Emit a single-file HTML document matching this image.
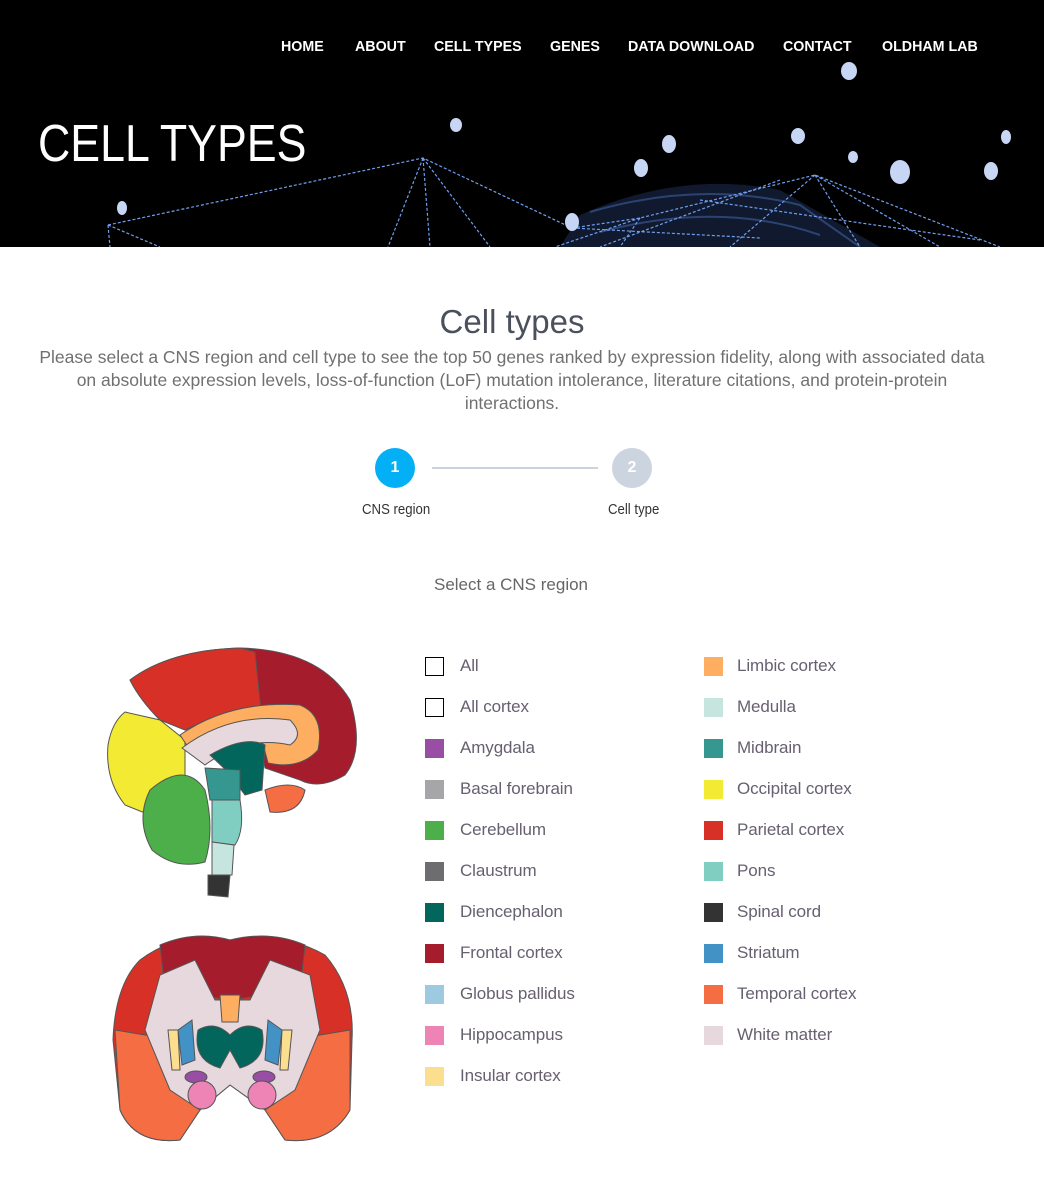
<!DOCTYPE html>
<html><head><meta charset="utf-8"><style>
*{margin:0;padding:0;box-sizing:border-box}
body{width:1044px;height:1185px;background:#fff;font-family:"Liberation Sans",sans-serif;position:relative;overflow:hidden}
.hdr{position:absolute;left:0;top:0;width:1044px;height:247px;background:#000;overflow:hidden}
.nav{position:absolute;top:38px;color:#fff;font-size:15px;font-weight:bold;transform-origin:0 0;transform:scaleX(0.95);white-space:nowrap}
.big{position:absolute;left:38px;top:114px;color:#fff;font-size:52px;transform-origin:0 0;transform:scaleX(0.86);white-space:nowrap}
.h2{position:absolute;left:0;width:1024px;text-align:center;top:303px;font-size:33px;color:#4a505c;font-weight:300}
.p{position:absolute;left:0;width:1024px;text-align:center;top:346px;font-size:17.5px;line-height:23px;color:#707070;white-space:nowrap}
.c{position:absolute;width:40px;height:40px;border-radius:50%;color:#fff;font-weight:bold;font-size:16px;text-align:center;line-height:40px}
.sl{position:absolute;font-size:15px;color:#333;transform-origin:0 0;transform:scaleX(0.88);white-space:nowrap}
.sel{position:absolute;left:0;width:1022px;text-align:center;top:575px;font-size:17px;color:#666}
.lg{position:absolute;font-size:17px;color:#676070;white-space:nowrap;letter-spacing:-0.1px}
.bx{position:absolute;width:19px;height:19px}
</style></head><body>
<div class="hdr">
<svg width="1044" height="247" style="position:absolute;left:0;top:0">
<g fill="#1a2a4c" opacity="0.6"><path d="M580 215 Q680 170 780 190 L880 247 L560 247 Z"/></g>
<g stroke="#3f5fa0" stroke-width="2" fill="none" opacity="0.6"><path d="M590 212 Q700 180 800 205 L860 247 M600 232 Q720 200 820 235"/></g>
<g stroke="#6f9ff0" stroke-width="1.2" stroke-dasharray="3,2" fill="none">
<path d="M108 225 L423 158 L572 228 M423 158 L388 247 M423 158 L430 247 M423 158 L490 247 M108 225 L110 247 M108 225 L160 247"/>
<path d="M572 228 L640 218 L815 175 L1000 247 M640 218 L555 247 M815 175 L940 247 M815 175 L860 247 M815 175 L730 247 M640 218 L620 247 M780 180 L600 247 M700 200 L980 240 M572 228 L760 238"/>
</g>
<g fill="#c8d6f5">
<ellipse cx="849" cy="71" rx="8" ry="9"/><ellipse cx="456" cy="125" rx="6" ry="7"/><ellipse cx="669" cy="144" rx="7" ry="9"/>
<ellipse cx="798" cy="136" rx="7" ry="8"/><ellipse cx="1006" cy="137" rx="5" ry="7"/><ellipse cx="853" cy="157" rx="5" ry="6"/>
<ellipse cx="641" cy="168" rx="7" ry="9"/><ellipse cx="900" cy="172" rx="10" ry="12"/><ellipse cx="991" cy="171" rx="7" ry="9"/>
<ellipse cx="122" cy="208" rx="5" ry="7"/><ellipse cx="572" cy="222" rx="7" ry="9"/>
</g></svg>
<div class="nav" style="left:281px">HOME</div>
<div class="nav" style="left:355px">ABOUT</div>
<div class="nav" style="left:434px">CELL TYPES</div>
<div class="nav" style="left:550px">GENES</div>
<div class="nav" style="left:628px">DATA DOWNLOAD</div>
<div class="nav" style="left:783px">CONTACT</div>
<div class="nav" style="left:882px">OLDHAM LAB</div>
<div class="big">CELL TYPES</div>
</div>
<div class="h2">Cell types</div>
<div class="p">Please select a CNS region and cell type to see the top 50 genes ranked by expression fidelity, along with associated data<br>on absolute expression levels, loss-of-function (LoF) mutation intolerance, literature citations, and protein-protein<br>interactions.</div>
<div class="c" style="left:375px;top:448px;background:#03b0f5">1</div>
<div style="position:absolute;left:432px;top:467px;width:166px;height:2px;background:#ccd3dc"></div>
<div class="c" style="left:612px;top:448px;background:#ccd4df">2</div>
<div class="sl" style="left:362px;top:501px">CNS region</div>
<div class="sl" style="left:608px;top:501px">Cell type</div>
<div class="sel">Select a CNS region</div>

<div class="bx" style="left:425px;top:657px;border:1.5px solid #000"></div><div class="lg" style="left:460px;top:656px">All</div>
<div class="bx" style="left:425px;top:698px;border:1.5px solid #000"></div><div class="lg" style="left:460px;top:697px">All cortex</div>
<div class="bx" style="left:425px;top:739px;background:#984ea3"></div><div class="lg" style="left:460px;top:738px">Amygdala</div>
<div class="bx" style="left:425px;top:780px;background:#a6a6a8"></div><div class="lg" style="left:460px;top:779px">Basal forebrain</div>
<div class="bx" style="left:425px;top:821px;background:#4daf4a"></div><div class="lg" style="left:460px;top:820px">Cerebellum</div>
<div class="bx" style="left:425px;top:862px;background:#6d6d6f"></div><div class="lg" style="left:460px;top:861px">Claustrum</div>
<div class="bx" style="left:425px;top:903px;background:#02665c"></div><div class="lg" style="left:460px;top:902px">Diencephalon</div>
<div class="bx" style="left:425px;top:944px;background:#a51c2d"></div><div class="lg" style="left:460px;top:943px">Frontal cortex</div>
<div class="bx" style="left:425px;top:985px;background:#9ecae1"></div><div class="lg" style="left:460px;top:984px">Globus pallidus</div>
<div class="bx" style="left:425px;top:1026px;background:#ee83b5"></div><div class="lg" style="left:460px;top:1025px">Hippocampus</div>
<div class="bx" style="left:425px;top:1067px;background:#fbdf8f"></div><div class="lg" style="left:460px;top:1066px">Insular cortex</div>

<div class="bx" style="left:704px;top:657px;background:#fdae61"></div><div class="lg" style="left:737px;top:656px">Limbic cortex</div>
<div class="bx" style="left:704px;top:698px;background:#c7e5df"></div><div class="lg" style="left:737px;top:697px">Medulla</div>
<div class="bx" style="left:704px;top:739px;background:#35978f"></div><div class="lg" style="left:737px;top:738px">Midbrain</div>
<div class="bx" style="left:704px;top:780px;background:#f2ea33"></div><div class="lg" style="left:737px;top:779px">Occipital cortex</div>
<div class="bx" style="left:704px;top:821px;background:#d73027"></div><div class="lg" style="left:737px;top:820px">Parietal cortex</div>
<div class="bx" style="left:704px;top:862px;background:#80cdc1"></div><div class="lg" style="left:737px;top:861px">Pons</div>
<div class="bx" style="left:704px;top:903px;background:#333"></div><div class="lg" style="left:737px;top:902px">Spinal cord</div>
<div class="bx" style="left:704px;top:944px;background:#4292c6"></div><div class="lg" style="left:737px;top:943px">Striatum</div>
<div class="bx" style="left:704px;top:985px;background:#f46d43"></div><div class="lg" style="left:737px;top:984px">Temporal cortex</div>
<div class="bx" style="left:704px;top:1026px;background:#e7d8de"></div><div class="lg" style="left:737px;top:1025px">White matter</div>

<svg width="1044" height="1185" style="position:absolute;left:0;top:0;pointer-events:none">
<g stroke="#555" stroke-width="1">
<path d="M130 680 Q170 650 240 648 Q320 650 350 700 Q365 750 345 775 Q320 790 300 780 L265 768 L258 730 Q230 715 185 730 L160 720 Q140 700 130 680 Z" fill="#a51c2d"/>
<path d="M130 680 Q170 650 240 648 L255 652 L262 720 Q220 712 185 730 L160 720 Q140 700 130 680 Z" fill="#d73027"/>
<path d="M125 712 L160 720 L185 740 L185 775 L150 815 L125 805 Q105 780 108 745 Q112 722 125 712 Z" fill="#f2ea33"/>
<path d="M180 735 Q230 700 300 705 Q325 715 318 750 Q300 770 268 763 L262 740 Q230 720 190 750 Z" fill="#fdae61"/>
<path d="M182 748 Q230 712 290 720 Q305 735 290 745 Q245 735 205 765 Z" fill="#e7d8de"/>
<path d="M210 755 Q245 735 265 745 L262 790 L245 795 L228 772 Z" fill="#02665c"/>
<path d="M265 790 Q290 780 305 790 Q300 815 270 812 Z" fill="#f46d43"/>
<path d="M205 768 L240 770 L240 800 L210 800 Z" fill="#35978f"/>
<path d="M212 800 L240 800 Q245 830 235 845 L212 842 Z" fill="#80cdc1"/>
<path d="M212 842 L234 845 L232 875 L212 875 Z" fill="#c7e5df"/>
<path d="M208 875 L230 875 L228 897 L208 895 Z" fill="#333"/>
<path d="M150 790 Q185 760 205 790 Q215 830 205 862 Q175 870 152 850 Q135 820 150 790 Z" fill="#4daf4a"/>
</g>
<g stroke="#555" stroke-width="1">
<path d="M140 960 Q180 930 230 940 Q280 930 325 955 Q355 990 352 1040 L350 1110 Q330 1145 285 1140 L265 1110 L230 1085 L200 1110 L180 1140 Q135 1145 120 1110 L113 1040 Q115 985 140 960 Z" fill="#d73027"/>
<path d="M160 945 Q195 930 230 940 Q270 930 305 945 L300 990 L230 1000 L165 990 Z" fill="#a51c2d"/>
<path d="M115 1030 L175 1040 L200 1110 L180 1140 Q135 1145 120 1110 Z M350 1030 L290 1040 L265 1110 L285 1140 Q330 1145 350 1110 Z" fill="#f46d43"/>
<path d="M160 975 L195 960 L215 1000 L250 1000 L270 960 L310 975 L320 1030 L295 1090 L265 1110 L230 1085 L200 1110 L170 1090 L145 1030 Z" fill="#e7d8de"/>
<path d="M198 1030 Q215 1020 230 1035 Q245 1020 262 1030 Q268 1060 240 1068 L230 1050 L220 1068 Q192 1060 198 1030 Z" fill="#02665c"/>
<path d="M178 1030 L192 1020 L195 1060 L182 1065 Z M282 1030 L268 1020 L265 1060 L278 1065 Z" fill="#4292c6"/>
<path d="M168 1030 L178 1030 L180 1070 L172 1070 Z M292 1030 L282 1030 L280 1070 L288 1070 Z" fill="#fbdf8f"/>
<path d="M220 995 L240 995 L238 1022 L222 1022 Z" fill="#fdae61"/>
<ellipse cx="196" cy="1077" rx="11" ry="6" fill="#984ea3"/><ellipse cx="264" cy="1077" rx="11" ry="6" fill="#984ea3"/>
<ellipse cx="202" cy="1095" rx="14" ry="14" fill="#ee83b5"/><ellipse cx="262" cy="1095" rx="14" ry="14" fill="#ee83b5"/>
</g>
</svg>
</body></html>
